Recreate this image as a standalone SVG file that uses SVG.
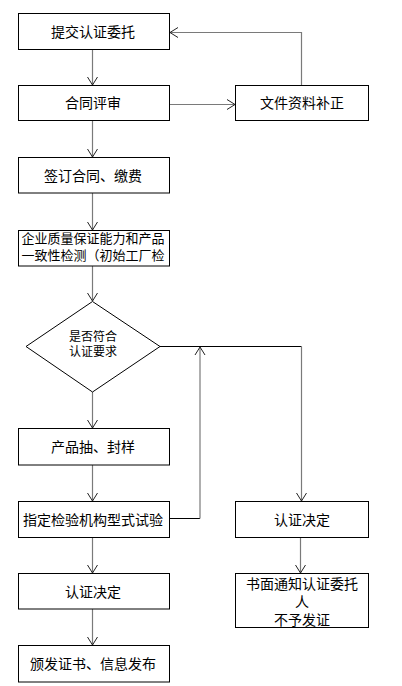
<svg xmlns="http://www.w3.org/2000/svg" width="402" height="686" viewBox="0 0 402 686">
<style>
.box{fill:#fff;stroke:#000;stroke-width:1}
.t{font-family:"Liberation Sans","Noto Sans CJK SC",sans-serif;font-size:14px;fill:#000;text-anchor:middle;dominant-baseline:central}
.s{font-size:12px}
.m{font-size:13px}
.c{fill:none;stroke:#7a7a7a;stroke-width:1.2}
.k{fill:none;stroke:#000;stroke-width:1}
.h{fill:none;stroke:#222;stroke-width:1}
</style>
<rect width="402" height="686" fill="#fff"/>
<g id="connectors">
<path class="c" d="M92.5 49.5V85"/><path class="h" d="M87.5 77L92.5 85L97.5 77"/>
<path class="c" d="M169.5 104.5H235"/><path class="h" d="M227 99.5L235 104.5L227 109.5"/>
<path class="c" d="M301.5 85V32.5H170"/><path class="h" d="M178 27.5L170 32.5L178 37.5"/>
<path class="c" d="M92.5 121V157"/><path class="h" d="M87.5 149L92.5 157L97.5 149"/>
<path class="c" d="M92.5 193V230"/><path class="h" d="M87.5 222L92.5 230L97.5 222"/>
<path class="c" d="M92.5 266V301"/><path class="h" d="M87.5 293L92.5 301L97.5 293"/>
<path class="c" d="M92.5 392V428"/><path class="h" d="M87.5 420L92.5 428L97.5 420"/>
<path class="c" d="M92.5 465V501"/><path class="h" d="M87.5 493L92.5 501L97.5 493"/>
<path class="c" d="M92.5 537V573"/><path class="h" d="M87.5 565L92.5 573L97.5 565"/>
<path class="c" d="M92.5 609V645"/><path class="h" d="M87.5 637L92.5 645L97.5 637"/>
<path class="k" d="M160 346.5H301.5"/>
<path class="c" d="M301.5 346.5V501"/><path class="h" d="M296.5 493L301.5 501L306.5 493"/>
<path class="k" d="M169.5 518.5H200"/>
<path class="c" d="M200 518.5V347"/><path class="h" d="M195 355L200 347L205 355"/>
<path class="c" d="M300.5 537V573"/><path class="h" d="M295.5 565L300.5 573L305.5 565"/>
</g>
<g id="n1"><rect class="box" x="18.5" y="13.5" width="151" height="36"/><text class="t" x="93" y="31.5">提交认证委托</text></g>
<g id="n2"><rect class="box" x="18.5" y="85.5" width="151" height="35"/><text class="t" x="93" y="103">合同评审</text></g>
<g id="n3"><rect class="box" x="235.5" y="85.5" width="133" height="35"/><text class="t" x="302" y="103">文件资料补正</text></g>
<g id="n4"><rect class="box" x="18.5" y="157.5" width="151" height="35.5"/><text class="t" x="93" y="175.5">签订合同、缴费</text></g>
<g id="n5"><rect class="box" x="18.5" y="230.5" width="151" height="35.5"/><text class="t m" x="93" y="238">企业质量保证能力和产品</text><text class="t m" x="93" y="255">一致性检测（初始工厂检</text></g>
<g id="n6"><path class="box" d="M92.5 301.5L160 346.5L92.5 392L26 346.5Z"/><text class="t s" x="93" y="337">是否符合</text><text class="t s" x="93" y="352">认证要求</text></g>
<g id="n7"><rect class="box" x="18.5" y="428.5" width="151" height="36.5"/><text class="t" x="93" y="447">产品抽、封样</text></g>
<g id="n8"><rect class="box" x="18.5" y="501.5" width="151" height="36"/><text class="t" x="93" y="519.5">指定检验机构型式试验</text></g>
<g id="n9"><rect class="box" x="18.5" y="573.5" width="151" height="35.5"/><text class="t" x="93" y="591.5">认证决定</text></g>
<g id="n10"><rect class="box" x="18.5" y="645.5" width="151" height="36.5"/><text class="t" x="93" y="664">颁发证书、信息发布</text></g>
<g id="n11"><rect class="box" x="235.5" y="501.5" width="133" height="36"/><text class="t" x="302" y="519.5">认证决定</text></g>
<g id="n12"><rect class="box" x="235.5" y="573.5" width="133" height="54"/><text class="t" x="302" y="583.5">书面通知认证委托</text><text class="t" x="302" y="601.5">人</text><text class="t" x="302" y="619.5">不予发证</text></g>
</svg>
